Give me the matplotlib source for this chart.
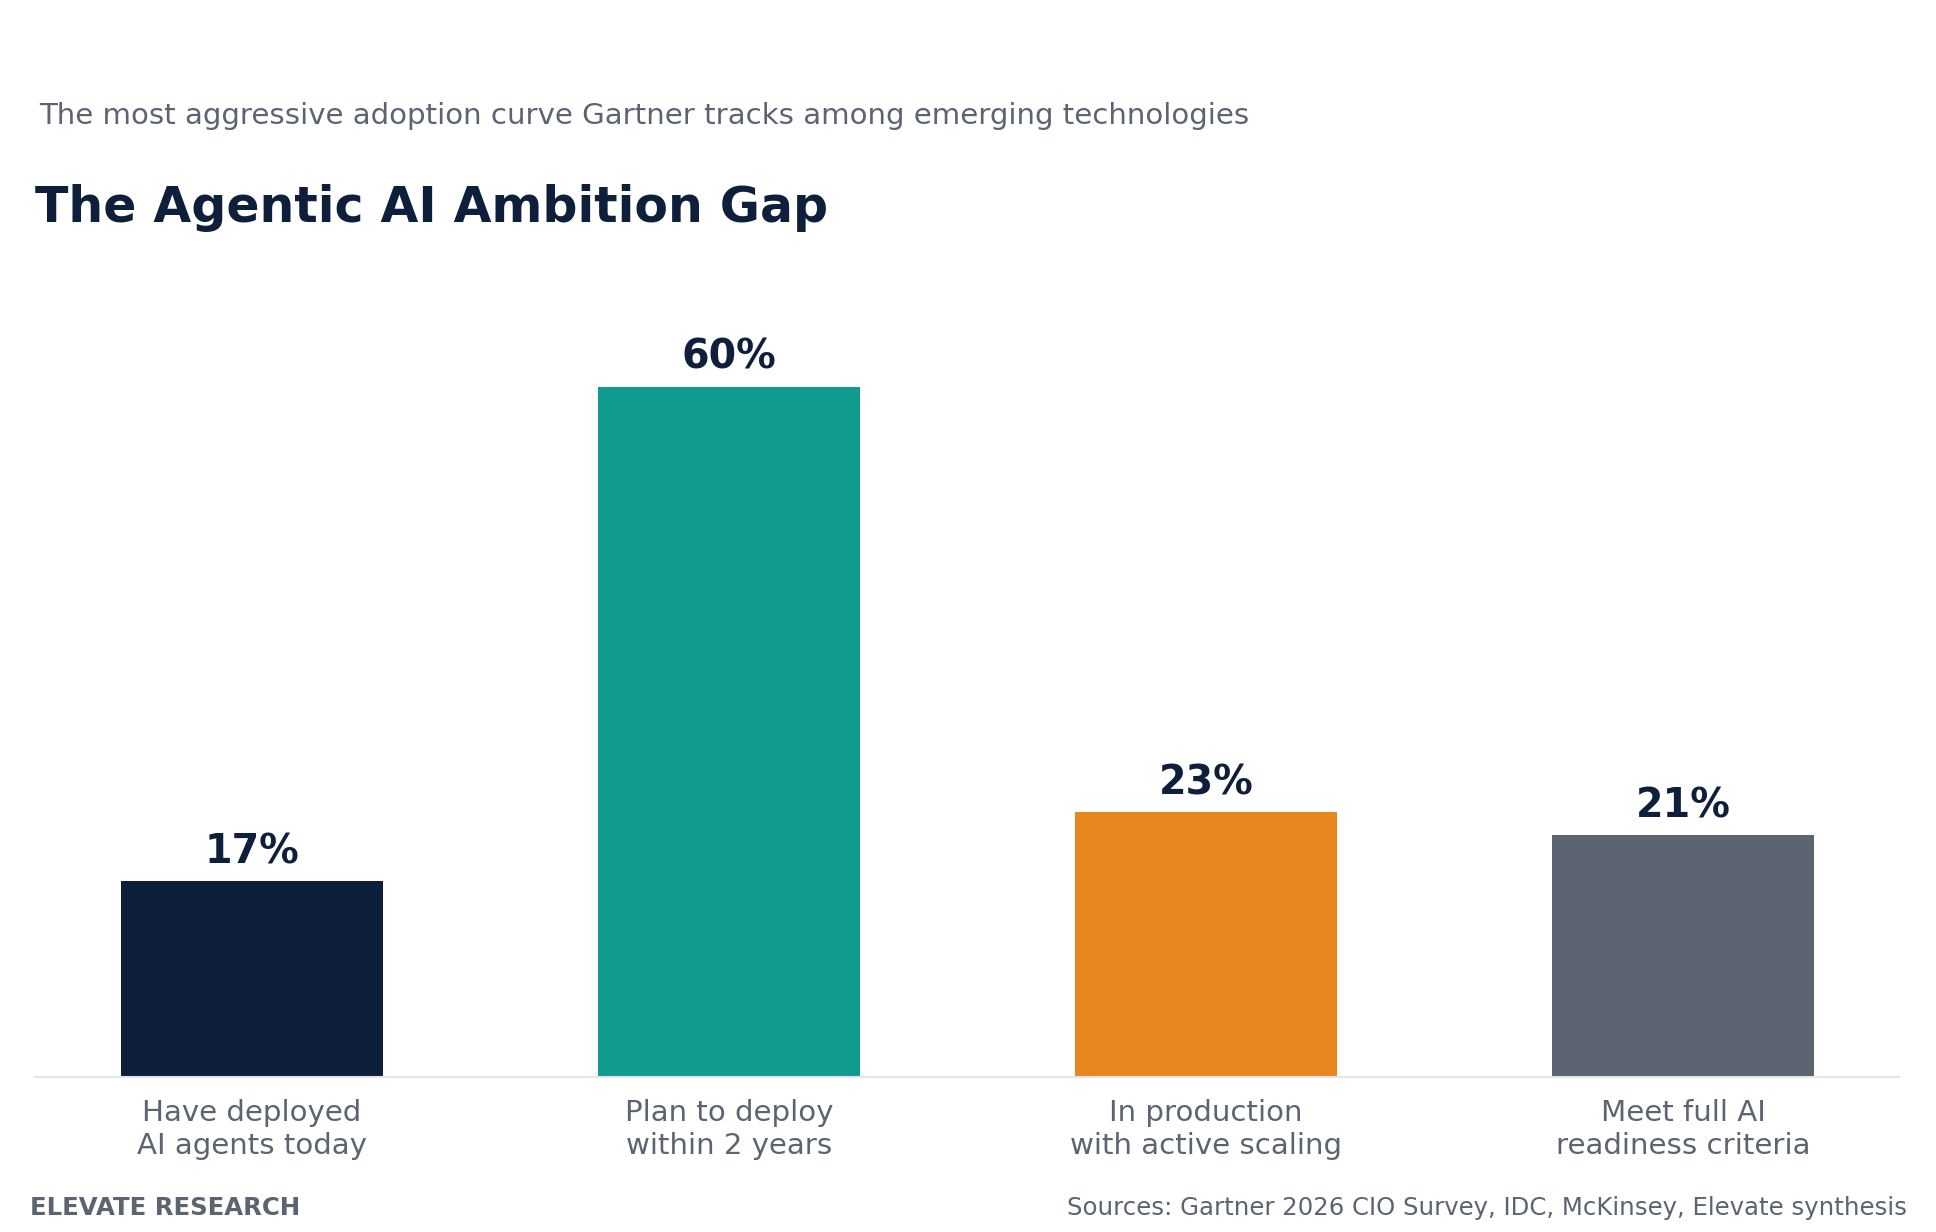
import matplotlib
matplotlib.use('Agg')
import matplotlib.pyplot as plt

# chart data
categories = ["Have deployed\nAI agents today", "Plan to deploy\nwithin 2 years",
              "In production\nwith active scaling", "Meet full AI\nreadiness criteria"]
values = [17, 60, 23, 21]
bar_colors = ["#0D1F3A", "#0F9C8E", "#E8871E", "#5C6472"]

title = "The Agentic AI Ambition Gap"
subtitle = "The most aggressive adoption curve Gartner tracks among emerging technologies"
brand = "ELEVATE RESEARCH"
source = "Sources: Gartner 2026 CIO Survey, IDC, McKinsey, Elevate synthesis"

navy = "#0D1F3A"
gray = "#5C6472"

fig = plt.figure(figsize=(19.36, 12.32), dpi=100)
ax = fig.add_axes([0.0181, 0.1258, 0.9629, 0.6536])

x = range(len(values))
ax.bar(x, values, width=0.55, color=bar_colors, zorder=2)

# value labels above bars
for xi, v in zip(x, values):
    ax.text(xi, v + 0.8, f"{v}%", ha="center", va="bottom",
            fontsize=28.5, fontweight="bold", color=navy)

ax.set_xlim(-0.455, 3.453)
ax.set_ylim(0, 70)
ax.set_xticks(list(x))
ax.set_xticklabels(categories, fontsize=21.1, color=gray)
ax.tick_params(axis="x", length=0, pad=16)
ax.set_yticks([])
for s in ["top", "right", "left"]:
    ax.spines[s].set_visible(False)
ax.spines["bottom"].set_color("#E2E5EA")
ax.spines["bottom"].set_linewidth(1.5)

fig.text(0.0204, 0.906, subtitle, fontsize=21.1, color=gray, va="center")
fig.text(0.0181, 0.831, title, fontsize=35.2, fontweight="bold", color=navy, va="center")
fig.text(0.0155, 0.010, brand, fontsize=17.6, fontweight="bold", color=gray, va="bottom")
fig.text(0.985, 0.010, source, fontsize=17.6, color=gray, va="bottom", ha="right")

fig.savefig("out.png", dpi=100, facecolor="white")
